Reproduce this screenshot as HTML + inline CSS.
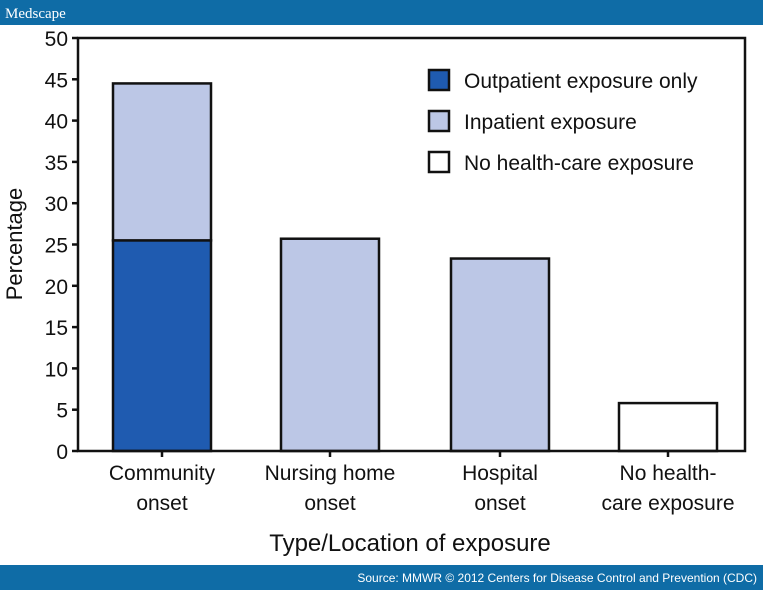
<!DOCTYPE html>
<html><head><meta charset="utf-8"><style>
body{margin:0;width:763px;height:590px;background:#fff;overflow:hidden;font-family:"Liberation Sans Narrow","Liberation Sans",sans-serif}
svg text{font-family:"Liberation Sans Narrow","Liberation Sans",sans-serif}
</style></head><body>
<svg width="763" height="590" xmlns="http://www.w3.org/2000/svg">
<rect x="0" y="0" width="763" height="25" fill="#0f6ca6"/>
<text x="5" y="18" fill="#fff" font-family="Liberation Serif" font-size="15" style="font-family:'Liberation Serif',serif">Medscape</text>
<rect x="0" y="565" width="763" height="25" fill="#0f6ca6"/>
<text x="757" y="582" fill="#fff" font-size="12" text-anchor="end">Source: MMWR © 2012 Centers for Disease Control and Prevention (CDC)</text>
<g id="plot"></g>
</svg>
<script>
const categories=[["Community","onset"],["Nursing home","onset"],["Hospital","onset"],["No health-","care exposure"]];
const outpatient=[25.5,0,0,0];
const inpatient=[19,25.7,23.3,0];
const noExposure=[0,0,0,5.8];
const yTicks=[0,5,10,15,20,25,30,35,40,45,50];
const NS="http://www.w3.org/2000/svg";
const g=document.getElementById('plot');
const L=78,R=745,T=38,B=451,ymax=50;
const y=v=>B-(v/ymax)*(B-T);
const centers=[162,330,500,668];
const x=i=>centers[i];
const bw=98;
function mk(tag,a,txt){const e=document.createElementNS(NS,tag);for(const k in a)e.setAttribute(k,a[k]);if(txt!=null)e.textContent=txt;g.appendChild(e);return e;}
categories.forEach((c,i)=>{
  let base=0;
  [[outpatient,'#1f5bb0','outpatient'],[inpatient,'#bcc7e6','inpatient'],[noExposure,'#ffffff','no-exposure']].forEach(([arr,col,n])=>{
    const v=arr[i]; if(!v)return;
    const r=mk('rect',{x:x(i)-bw/2,y:y(base+v),width:bw,height:y(base)-y(base+v),fill:col,stroke:'#111','stroke-width':2.5});
    
    
    base+=v;
  });
  const t=mk('line',{x1:x(i),x2:x(i),y1:B,y2:B+6,stroke:'#111','stroke-width':2.5});
  
  
  c.forEach((ln,k)=>{
    const tx=mk('text',{x:x(i),y:480+k*30,'font-size':21,'text-anchor':'middle',fill:'#111'},ln);
    
    
  });
});
const fr=mk('rect',{x:L,y:T,width:R-L,height:B-T,fill:'none',stroke:'#111','stroke-width':2.5});


yTicks.forEach(v=>{
  const l=mk('line',{x1:L-6,x2:L,y1:y(v),y2:y(v),stroke:'#111','stroke-width':2.5});
  
  
  const t=mk('text',{x:L-10,y:y(v)+8,'font-size':21,'text-anchor':'end',fill:'#111'},String(v));
  
  
});
const yt=mk('text',{x:0,y:0,'font-size':22,'text-anchor':'middle',fill:'#111',transform:'translate(22,244) rotate(-90)'},'Percentage');


const xt=mk('text',{x:410,y:551,'font-size':24,'text-anchor':'middle',fill:'#111'},'Type/Location of exposure');


[['Outpatient exposure only','#1f5bb0'],['Inpatient exposure','#bcc7e6'],['No health-care exposure','#ffffff']].forEach(([lab,col],k)=>{
  const yy=70+k*41;
  const s=mk('rect',{x:429,y:yy,width:20,height:20,fill:col,stroke:'#111','stroke-width':2.5});
  
  
  const t=mk('text',{x:464,y:yy+18,'font-size':21,fill:'#111'},lab);
  
  
});
</script>
</body></html>
